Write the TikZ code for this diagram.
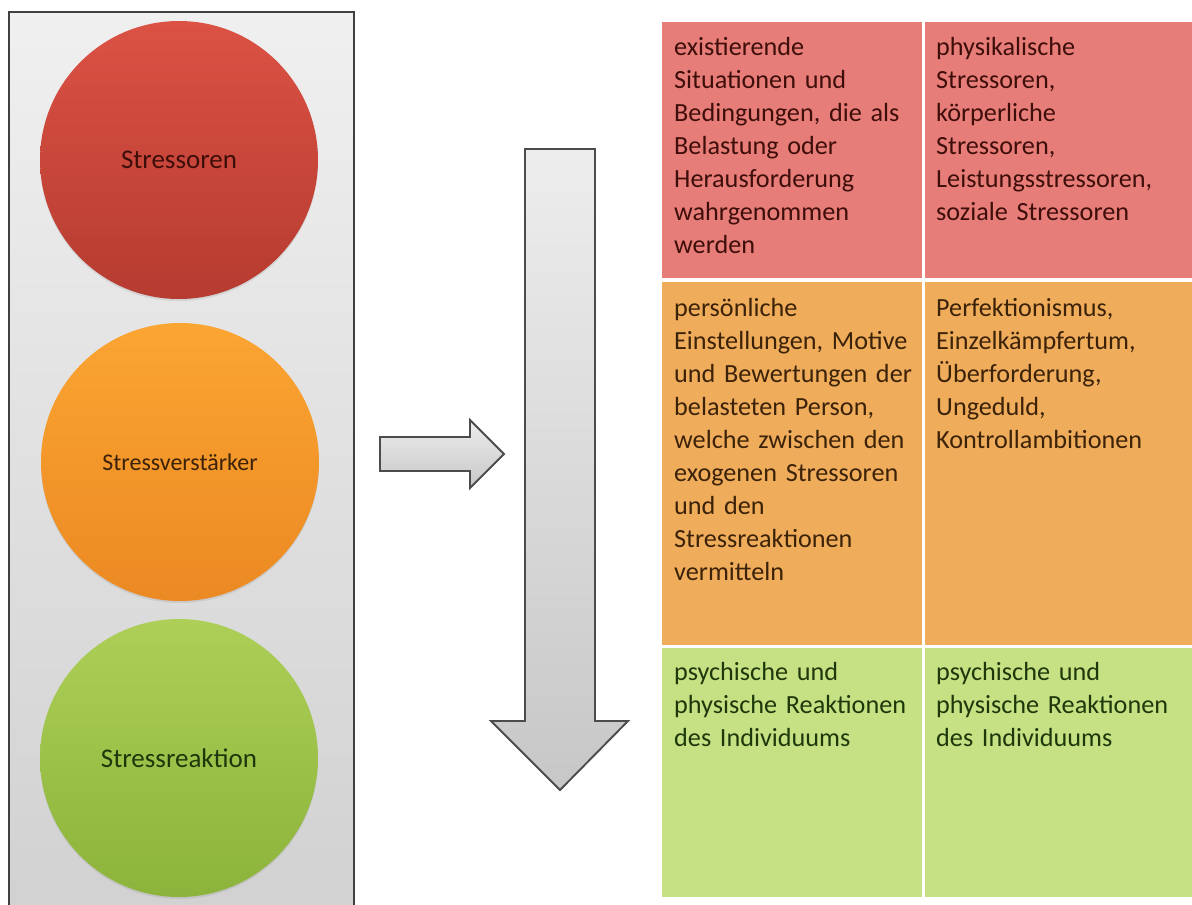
\documentclass[tikz,border=0pt]{standalone}
\usepackage{fontspec}
\setmainfont{Carlito}
\usetikzlibrary{shadows}
\definecolor{redTop}{HTML}{DB5244}
\definecolor{redBot}{HTML}{B63B30}
\definecolor{orTop}{HTML}{FBA533}
\definecolor{orBot}{HTML}{EB8922}
\definecolor{grTop}{HTML}{ADCF57}
\definecolor{grBot}{HTML}{8CB33B}
\definecolor{cellRed}{HTML}{E77D78}
\definecolor{cellOr}{HTML}{EFAD5C}
\definecolor{cellGr}{HTML}{C5E183}
\definecolor{txtRed}{HTML}{3E0E0A}
\definecolor{txtOr}{HTML}{3C2208}
\definecolor{txtGr}{HTML}{1E380B}
\begin{document}
\begin{tikzpicture}[x=1pt,y=-1pt,
  panel/.style={draw=black!75, line width=1.5pt, top color=black!6, bottom color=black!18},
  lamp/.style={circle, minimum size=278pt, inner sep=0pt,
    font=\fontsize{27}{33}\selectfont,
    drop shadow={opacity=0.18, shadow xshift=0pt, shadow yshift=-2pt}},
  bigarrow/.style={draw=black!70, line width=1.9pt, line join=miter,
    top color=black!7, bottom color=black!22},
  celltext/.style={anchor=north west, inner sep=0pt, text width=250pt, align=left,
    font=\fontsize{26.2}{33}\selectfont}
]
\useasboundingbox (0,0) rectangle (1192,905);
\fill[white] (0,0) rectangle (1192,905);
\clip (0,0) rectangle (1192,905);

% left panel with the three lamps
\draw[panel] (9,12) rectangle (354,915);
\node[lamp, top color=redTop, bottom color=redBot, text=txtRed] (stressoren) at (179,160)
  {\raisebox{-3pt}{Stressoren}};
\node[lamp, top color=orTop, bottom color=orBot, text=txtOr,
  font=\fontsize{24}{29}\selectfont] (verstaerker) at (180,462)
  {\raisebox{-4pt}{Stressverstärker}};
\node[lamp, top color=grTop, bottom color=grBot, text=txtGr] (reaktion) at (179,758)
  {\raisebox{-4pt}{Stressreaktion}};

% block arrows
\path[bigarrow] (380,437) -- (470,437) -- (470,420) -- (504,454) -- (470,488)
  -- (470,471) -- (380,471) -- cycle;
\path[bigarrow] (525,149) -- (595,149) -- (595,721) -- (628,721) -- (560,790)
  -- (491,721) -- (525,721) -- cycle;

% table cells
\fill[cellRed] (662,22) rectangle (921.5,278);
\fill[cellRed] (924.5,22) rectangle (1192,278);
\fill[cellOr] (662,282) rectangle (921.5,644.5);
\fill[cellOr] (924.5,282) rectangle (1192,644.5);
\fill[cellGr] (662,647.5) rectangle (921.5,897);
\fill[cellGr] (924.5,647.5) rectangle (1192,897);

\node[celltext, text=txtRed] (t11) at (674,31.9) {\strut existierende\\Situationen und\\Bedingungen, die als\\Belastung oder\\Herausforderung\\wahrgenommen\\werden};
\node[celltext, text=txtRed] (t12) at (936,31.9) {\strut physikalische\\Stressoren,\\körperliche\\Stressoren,\\Leistungsstressoren,\\soziale Stressoren};
\node[celltext, text=txtOr] (t21) at (674,292.9) {\strut persönliche\\Einstellungen, Motive\\und Bewertungen der\\belasteten Person,\\welche zwischen den\\exogenen Stressoren\\und den\\Stressreaktionen\\vermitteln};
\node[celltext, text=txtOr] (t22) at (936,292.9) {\strut Perfektionismus,\\Einzelkämpfertum,\\Überforderung,\\Ungeduld,\\Kontrollambitionen};
\node[celltext, text=txtGr] (t31) at (674,656.9) {\strut psychische und\\physische Reaktionen\\des Individuums};
\node[celltext, text=txtGr] (t32) at (936,656.9) {\strut psychische und\\physische Reaktionen\\des Individuums};
\end{tikzpicture}
\end{document}
